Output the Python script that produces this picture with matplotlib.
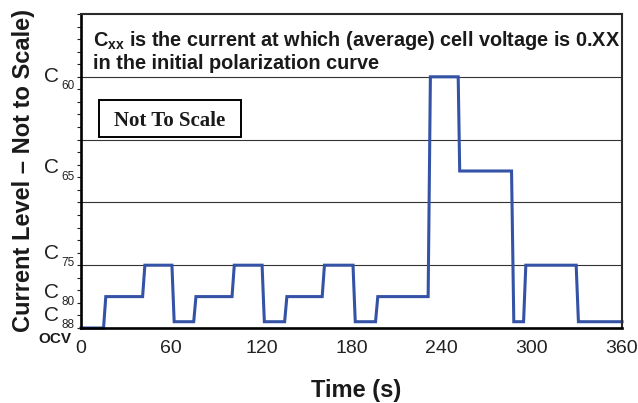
import matplotlib
matplotlib.use("Agg")
import matplotlib.pyplot as plt
from matplotlib.patches import Rectangle

# current levels (arbitrary "not to scale" units)
OCV, C88, C80, C75, C65, C60 = 0.0, 0.5, 2.5, 5.0, 12.5, 20.0

# vertices of the load profile
time_s = [0, 15, 16.5, 41, 42.5, 60.5, 62, 75, 76.5, 100.5, 102, 120.5, 122,
          135.5, 137, 160.5, 162, 181, 182.5, 196, 197.5, 231, 232.5, 251,
          252, 286.5, 288, 294.5, 296, 329.5, 331, 360]
level = [OCV, OCV, C80, C80, C75, C75, C88, C88, C80, C80, C75, C75, C88,
         C88, C80, C80, C75, C75, C88, C88, C80, C80, C60, C60,
         C65, C65, C88, C88, C75, C75, C88, C88]

x_ticks = [0, 60, 120, 180, 240, 300, 360]
grid_levels = [5, 10, 15, 20]
c_names = ["60", "65", "75", "80", "88"]
c_ticks = [19.0, 11.8, 4.9, 1.8, 0.0]   # where the labels sit

SANS = ["Liberation Sans", "DejaVu Sans"]
SERIF = ["Liberation Serif", "DejaVu Serif"]
plt.rcParams["mathtext.default"] = "regular"


def px(p):
    return p * 72.0 / 100.0


fig = plt.figure(figsize=(6.38, 4.03), dpi=100)
ax = fig.add_axes([81 / 638, 1 - 328 / 403, 541 / 638, 314 / 403])

for g in grid_levels:
    ax.axhline(g, color="#333333", lw=0.8, zorder=1)

ax.plot(time_s, level, color="#3452a6", lw=2.2, solid_joinstyle="miter",
        zorder=3, clip_on=False)

ax.set_xlim(0, 360)
ax.set_ylim(0, 25)
ax.set_xticks(x_ticks)
ax.set_xticklabels([str(t) for t in x_ticks], family=SANS, fontsize=14,
                   color="#222222")
ax.tick_params(axis="x", length=0, pad=8.5)
ax.set_yticks(range(0, 26))
ax.set_yticklabels([])
ax.tick_params(axis="y", length=3, width=0.8, direction="out", color="#222222")

for side in ["left", "bottom"]:
    ax.spines[side].set_linewidth(1.9)
    ax.spines[side].set_color("black")
for side in ["top", "right"]:
    ax.spines[side].set_linewidth(1.5)
    ax.spines[side].set_color("#2a2a2a")
for s in ax.spines.values():
    s.set_zorder(4)

# C labels on the y axis
for name, yb in zip(c_names, c_ticks):
    ax.annotate("C", xy=(0, yb), xycoords=("axes fraction", "data"),
                xytext=(px(-22), px(7)), textcoords="offset points",
                ha="right", va="baseline", family=SANS, fontsize=15,
                color="#222222", annotation_clip=False)
    ax.annotate(name, xy=(0, yb), xycoords=("axes fraction", "data"),
                xytext=(px(-20), 0), textcoords="offset points",
                ha="left", va="baseline", family=SANS, fontsize=8.5,
                color="#222222", annotation_clip=False)

ax.text(0.022, 0.952,
        "C$_{xx}$ is the current at which (average) cell voltage is 0.XX\n"
        "in the initial polarization curve",
        transform=ax.transAxes, ha="left", va="top", family=SANS,
        fontsize=14.3, fontweight="bold", color="#1a1a1a", linespacing=1.1)

ax.add_patch(Rectangle((0.0333, 0.608), 0.2624, 0.118, transform=ax.transAxes,
                       fill=False, ec="black", lw=1.4, zorder=5))
ax.text(0.1645, 0.643, "Not To Scale", transform=ax.transAxes, ha="center",
        va="baseline", family=SERIF, fontsize=15, fontweight="bold",
        color="#1a1a1a")

fig.text(24 / 638, 1 - 171 / 403, "Current Level \u2013 Not to Scale)",
         rotation=90, ha="center", va="center", family=SANS, fontsize=17,
         fontweight="bold", color="#1a1a1a")
fig.text(356 / 638, 1 - 397 / 403, "Time (s)", ha="center", va="baseline",
         family=SANS, fontsize=17, fontweight="bold", color="#1a1a1a")
fig.text(38 / 638, 1 - 343 / 403, "OCV", ha="left", va="baseline",
         family=SANS, fontsize=11, fontweight="bold", color="#1a1a1a")

fig.savefig("out.png", dpi=100)
